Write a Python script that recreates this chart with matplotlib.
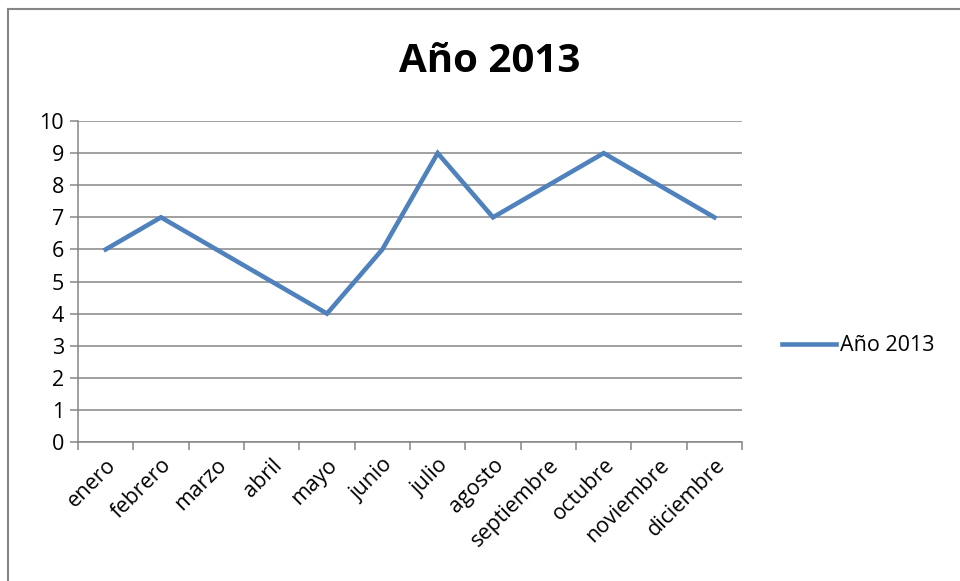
import numpy as np
import matplotlib.pyplot as plt
from matplotlib.lines import Line2D

plt.rcParams['font.family'] = ['Open Sans', 'DejaVu Sans']

meses = ["enero", "febrero", "marzo", "abril", "mayo", "junio", "julio",
         "agosto", "septiembre", "octubre", "noviembre", "diciembre"]
valores = [6, 7, 6, 5, 4, 6, 9, 7, 8, 9, 8, 7]
serie = "Año 2013"

gris = "#868686"
azul = "#4F81BD"
fs = 15.5

fig = plt.figure(figsize=(9.6, 5.81), dpi=100)
ax = fig.add_axes([0.08125, 0.2392, 0.6917, 0.5525])

x = np.arange(len(meses))
ax.plot(x, valores, color=azul, linewidth=3.3, solid_joinstyle='miter', label=serie)

ax.set_xlim(-0.5, len(meses) - 0.5)
ax.set_ylim(0, 10)
ax.set_yticks(range(0, 11))
ax.yaxis.grid(True, color=gris, linewidth=1.1)
ax.set_axisbelow(True)

# etiquetas en el centro, marcas entre categorias
ax.set_xticks(x)
ax.set_xticklabels(meses, rotation=45, ha='right', va='top',
                   rotation_mode='anchor', fontsize=fs)
ax.tick_params(axis='x', which='major', length=0, pad=9)
ax.set_xticks(np.arange(-0.5, len(meses)), minor=True)
ax.tick_params(axis='x', which='minor', length=6, width=1.1, color=gris)
ax.tick_params(axis='y', length=6, width=1.1, color=gris, labelsize=fs, pad=4)

for s in ['top', 'right']:
    ax.spines[s].set_visible(False)
for s in ['left', 'bottom']:
    ax.spines[s].set_color(gris)
    ax.spines[s].set_linewidth(1.1)

fig.text(490 / 960, 1 - 62 / 581, serie, fontsize=29, fontweight='bold',
         ha='center', va='center')

ax.legend(loc='center left', bbox_to_anchor=(1.047, 0.3), frameon=False,
          fontsize=fs, handlelength=2.5, handletextpad=0.2, borderaxespad=0.0)

# borde del grafico
fig.add_artist(Line2D([0.0085, 0.0085], [0, 0.985], color=gris, linewidth=1.5))
fig.add_artist(Line2D([0.0085, 1.0], [0.985, 0.985], color=gris, linewidth=1.5))

fig.savefig("out.png", dpi=100)
